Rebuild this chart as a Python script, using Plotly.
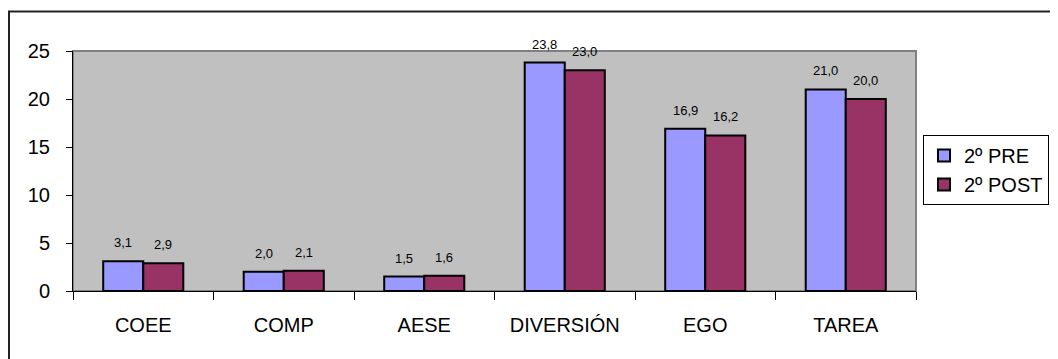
import plotly.graph_objects as go

categories = ["COEE", "COMP", "AESE", "DIVERSIÓN", "EGO", "TAREA"]
pre_values = [3.1, 2.0, 1.5, 23.8, 16.9, 21.0]
post_values = [2.9, 2.1, 1.6, 23.0, 16.2, 20.0]
series_names = ["2º PRE", "2º POST"]
y_ticks = [0, 5, 10, 15, 20, 25]

FONT = "Liberation Sans, Arial, sans-serif"
OFF = 8  # default page body margin
W, H = 1058 - OFF, 359 - OFF
# plot area in page pixels: x 73..916, y 51..291
L, T = 73 - OFF, 51 - OFF
R = W - (916 - OFF)
B = H - (291 - OFF)
pw, ph = W - L - R, H - T - B


def fmt(v):
    return f"{v:.1f}".replace(".", ",")


def px_x(x):
    return (x - OFF - L) / pw


def px_y(y):
    return (T + ph - (y - OFF)) / ph


fig = go.Figure()
colors = ["#9999FF", "#993366"]
for name, vals, col in zip(series_names, [pre_values, post_values], colors):
    fig.add_trace(go.Bar(
        x=categories, y=vals, name=name,
        marker=dict(color=col, line=dict(color="black", width=2)),
        legendgroup=name,
    ))

# data labels
for idx, vals in enumerate([pre_values, post_values]):
    for c, v in zip(categories, vals):
        fig.add_annotation(
            x=c, y=v, text=fmt(v), showarrow=False,
            xshift=-20 if idx == 0 else 20, yshift=9, yanchor="bottom",
            font=dict(family=FONT, size=13, color="black"),
        )

# plot area border (gray top/right)
fig.add_shape(type="rect", xref="paper", yref="paper", x0=0, x1=1, y0=0, y1=1,
              line=dict(color="#808080", width=2), layer="below")
# outer chart frame
fig.add_shape(type="rect", xref="paper", yref="paper",
              x0=px_x(9), x1=px_x(1090), y0=px_y(390), y1=px_y(11.5),
              line=dict(color="#222222", width=2))

fig.update_layout(
    width=W, height=H,
    margin=dict(l=L, r=R, t=T, b=B, pad=0, autoexpand=False),
    paper_bgcolor="white", plot_bgcolor="#C0C0C0",
    barmode="group", bargap=0.43, bargroupgap=0,
    font=dict(family=FONT, size=20, color="black"),
    showlegend=True,
    legend=dict(
        xref="container", yref="container",
        x=(923 - OFF) / W, y=1 - (135 - OFF) / H, xanchor="left", yanchor="top",
        bgcolor="white", bordercolor="black", borderwidth=1,
        font=dict(family=FONT, size=20, color="black"),
        tracegroupgap=10, traceorder="normal",
    ),
    xaxis=dict(
        type="category", showline=True, linecolor="black", linewidth=1,
        ticks="outside", tickson="boundaries", ticklen=8, tickcolor="black",
        showgrid=False, tickfont=dict(family=FONT, size=20, color="black"),
        ticklabelstandoff=16,
    ),
    yaxis=dict(
        range=[0, 25], tickvals=y_ticks, showline=True, linecolor="black",
        linewidth=1, ticks="outside", ticklen=6, tickcolor="black",
        showgrid=False, zeroline=False,
        tickfont=dict(family=FONT, size=20, color="black"),
        ticklabelstandoff=12,
    ),
)

fig.write_html("out.html")
